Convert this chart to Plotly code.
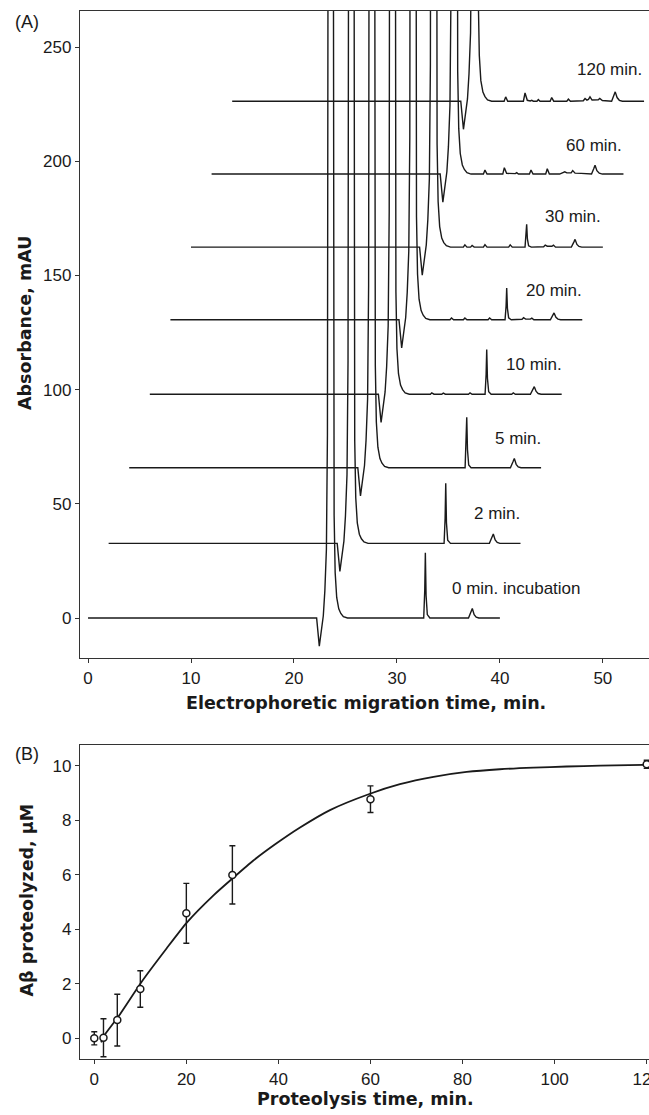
import plotly.graph_objects as go

# ---------------- Panel A data (electropherograms) ----------------
TRACE_LABELS = ["0 min. incubation", "2 min.", "5 min.", "10 min.", "20 min.",
                "30 min.", "60 min.", "120 min."]
# display offsets of each stacked trace: migration-time shift (min) and baseline (mAU)
TRACE_SHIFT = [0, 2, 4, 6, 8, 10, 12, 14]
TRACE_BASELINE = [0, 32.7, 65.8, 98.0, 130.6, 162.4, 194.4, 226.3]

# shared system dip + main (off-scale) peak, local time (min) / absorbance above baseline
MAIN_T = [0, 22.2, 22.46, 22.65, 22.85, 23.0, 23.15, 23.25, 23.3, 23.55, 23.84, 23.9,
          24.0, 24.15, 24.35, 24.55, 24.8, 25.2]
MAIN_Y = [0, 0, -12.3, -6, 1, 12, 30, 80, 300, 1200, 260, 45, 20, 9, 4, 2, 0.6, 0]

# product / substrate peaks after the main peak (local time, absorbance above baseline)
MINOR_T = [
    [32.6, 32.7, 32.76, 32.83, 32.95, 33.2, 36.95, 37.2, 37.32, 37.5, 37.7, 37.95, 40.0],
    [32.58, 32.68, 32.74, 32.81, 32.93, 33.2, 36.98, 37.24, 37.36, 37.54, 37.74, 38.0, 40.0],
    [32.62, 32.72, 32.78, 32.85, 32.97, 33.2, 37.02, 37.28, 37.4, 37.58, 37.78, 38.05, 40.0],
    [27.25, 27.38, 27.6, 28.35, 28.5, 28.7, 30.95, 31.1, 31.3, 32.56, 32.66, 32.72, 32.79,
     32.91, 33.15, 35.15, 35.3, 35.5, 36.96, 37.22, 37.34, 37.52, 37.72, 38.0, 40.0],
    [27.15, 27.3, 27.5, 28.45, 28.6, 28.8, 30.85, 31.0, 31.2, 32.5, 32.6, 32.66, 32.73, 32.85,
     33.1, 34.15, 34.3, 34.5, 34.95, 35.1, 35.3, 36.9, 37.14, 37.26, 37.44, 37.64, 37.9, 40.0],
    [26.45, 26.6, 26.8, 27.15, 27.3, 27.5, 28.4, 28.55, 28.75, 30.85, 31.0, 31.2, 32.44, 32.54,
     32.6, 32.67, 32.79, 33.05, 34.25, 34.4, 34.6, 35.05, 35.2, 35.4, 36.94, 37.18, 37.3,
     37.48, 37.68, 37.95, 40.0],
    [26.4, 26.55, 26.75, 28.28, 28.43, 28.65, 29.5, 29.63, 29.8, 30.87, 31.02, 31.22, 32.45,
     32.6, 32.8, 33.8, 34.15, 34.3, 34.5, 34.92, 35.07, 35.3, 35.9, 36.9, 37.12, 37.24, 37.42,
     37.65, 37.95, 40.0],
    [26.41, 26.56, 26.76, 28.28, 28.44, 28.66, 28.95, 29.09, 29.25, 29.6, 29.73, 29.9, 30.88,
     31.03, 31.23, 32.5, 32.65, 32.85, 34.1, 34.27, 34.45, 34.6, 34.75, 34.95, 35.55, 35.7,
     35.95, 36.85, 37.08, 37.2, 37.38, 37.6, 37.9, 40.0],
]
MINOR_Y = [
    [0, 12, 28.6, 10, 1.5, 0, 0, 2.8, 4.2, 1.5, 0.4, 0, 0],
    [0, 11, 26.3, 9, 1.4, 0, 0, 2.7, 4.1, 1.5, 0.4, 0, 0],
    [0, 9.5, 22.1, 8, 1.2, 0, 0, 2.7, 4.1, 1.5, 0.4, 0, 0],
    [0, 0.6, 0, 0, 0.5, 0, 0, 0.6, 0, 0, 8.5, 19.6, 7, 1.1, 0, 0, 0.6, 0, 0, 2.2, 3.3, 1.2,
     0.3, 0, 0],
    [0, 0.8, 0, 0, 0.8, 0, 0, 0.8, 0, 0, 6, 13.9, 5, 0.8, 0, 0.2, 0.9, 0.3, 0.3, 0.7, 0, 0,
     2.0, 3.0, 1.1, 0.3, 0, 0],
    [0, 1.0, 0, 0, 0.7, 0, 0, 1.1, 0, 0, 1.0, 0, 0, 4.5, 10, 3.6, 0.6, 0, 0.2, 0.9, 0.4, 0.4,
     0.9, 0, 0, 2.2, 3.4, 1.2, 0.3, 0, 0],
    [0, 1.75, 0, 0, 2.8, 0.3, 0.2, 0.6, 0, 0, 1.75, 0, 0, 2.3, 0, 0, 0.5, 1.0, 0.5, 0.5, 1.5,
     0.4, 0.3, 0, 2.4, 3.9, 1.5, 0.4, 0, 0],
    [0, 1.9, 0, 0, 3.6, 0.4, 0.1, 0.4, 0, 0, 0.7, 0, 0, 1.6, 0, 0, 0.9, 0, 0.2, 1.2, 0.5, 0.8,
     1.9, 0.5, 0.6, 1.2, 0.3, 0, 2.5, 4.1, 1.6, 0.4, 0, 0],
]
LABEL_X = [35.2, 37.3, 39.3, 40.4, 42.3, 44.2, 46.2, 47.3]
LABEL_Y = [13, 45.8, 78.7, 110.8, 143.3, 175.7, 207, 240]

# ---------------- Panel B data (proteolysis kinetics) ----------------
PROTEO_TIME = [0, 2, 5, 10, 20, 30, 60, 120]
AB_PROTEOLYZED = [0.0, 0.02, 0.67, 1.81, 4.59, 6.0, 8.78, 10.06]
AB_ERROR = [0.24, 0.7, 0.95, 0.67, 1.1, 1.07, 0.49, 0.15]
FIT_T = [1.5, 2, 5.2, 10.3, 15.7, 20.1, 25.9, 30.1, 34.5, 39.6, 44.7, 51.2, 59.9, 66.4,
         73.7, 80.9, 88.1, 95.4, 102.6, 109.9, 119.3]
FIT_Y = [-0.15, 0.06, 0.79, 2.08, 3.3, 4.25, 5.25, 5.88, 6.52, 7.16, 7.74, 8.38, 8.98, 9.33,
         9.6, 9.78, 9.88, 9.94, 9.98, 10.01, 10.04]

# ---------------- figure ----------------
W, H = 649, 1115
ML, MR, MT, MB = 80, 0, 11, 56
PW, PH = W - ML - MR, H - MT - MB


def px_x(px):
    return (px - ML) / PW


def px_y(py):
    return (H - MB - py) / PH


INK = "#1a1a1a"
AX = "#333333"
fig = go.Figure()

for k in range(len(TRACE_LABELS)):
    t = MAIN_T + MINOR_T[k]
    y = MAIN_Y + MINOR_Y[k]
    fig.add_trace(go.Scatter(
        x=[TRACE_SHIFT[k] + v for v in t],
        y=[TRACE_BASELINE[k] + v for v in y],
        mode="lines", line=dict(color=INK, width=1.4),
        xaxis="x", yaxis="y", showlegend=False, hoverinfo="skip"))

fig.add_trace(go.Scatter(
    x=FIT_T, y=FIT_Y, mode="lines",
    line=dict(color=INK, width=1.8, shape="spline", smoothing=0.6),
    xaxis="x2", yaxis="y2", showlegend=False))
fig.add_trace(go.Scatter(
    x=PROTEO_TIME, y=AB_PROTEOLYZED, mode="markers", cliponaxis=False,
    marker=dict(symbol="circle", size=7, color="white", line=dict(color=INK, width=1.5)),
    error_y=dict(type="data", array=AB_ERROR, visible=True, color=INK, thickness=1.4, width=3),
    xaxis="x2", yaxis="y2", showlegend=False))

tickfont = dict(family="Liberation Sans, Arial, sans-serif", size=17, color=INK)
axis_common = dict(showline=True, linecolor=AX, linewidth=1.4, ticks="outside", ticklen=4,
                   tickwidth=1.2, tickcolor=AX, showgrid=False, zeroline=False,
                   tickfont=tickfont, ticklabeloverflow="allow")

top_dom = [px_y(658), 1]
bot_dom = [0, px_y(745)]

fig.update_layout(
    width=W, height=H,
    margin=dict(l=ML, r=MR, t=MT, b=MB, autoexpand=False),
    paper_bgcolor="white", plot_bgcolor="white",
    xaxis=dict(domain=[0, 1], range=[-0.78, 54.48], tickvals=[0, 10, 20, 30, 40, 50],
               anchor="y", mirror=True, **axis_common),
    yaxis=dict(domain=top_dom, range=[-17.5, 265.8], tickvals=[0, 50, 100, 150, 200, 250],
               anchor="x", **axis_common),
    xaxis2=dict(domain=[0, 1], range=[-3.1, 120.5], tickvals=[0, 20, 40, 60, 80, 100, 120],
                anchor="y2", mirror=True, **axis_common),
    yaxis2=dict(domain=bot_dom, range=[-0.76, 10.77], tickvals=[0, 2, 4, 6, 8, 10],
                anchor="x2", **axis_common),
)

ann = []
labfont = dict(family="Liberation Sans, Arial, sans-serif", size=17, color=INK)
for k, lab in enumerate(TRACE_LABELS):
    ann.append(dict(x=LABEL_X[k], y=LABEL_Y[k], xref="x", yref="y", text=lab,
                    showarrow=False, xanchor="left", yanchor="middle", font=labfont))

titlefont = dict(family="DejaVu Sans, sans-serif", size=17.5, color=INK, weight="bold")
panfont = dict(family="Liberation Sans, Arial, sans-serif", size=18, color=INK)
ann += [
    dict(x=px_x(27), y=px_y(22), text="(A)", font=panfont),
    dict(x=px_x(27), y=px_y(754), text="(B)", font=panfont),
    dict(x=px_x(24.5), y=px_y(323.5), text="Absorbance, mAU", textangle=-90, font=titlefont),
    dict(x=px_x(366), y=px_y(703), text="Electrophoretic migration time, min.", font=titlefont),
    dict(x=px_x(26.5), y=px_y(900), text="Aβ proteolyzed, μM", textangle=-90, font=titlefont),
    dict(x=px_x(365), y=px_y(1099), text="Proteolysis time, min.", font=titlefont),
]
for a in ann[len(TRACE_LABELS):]:
    a.update(xref="paper", yref="paper", showarrow=False, xanchor="center", yanchor="middle")
fig.update_layout(annotations=ann)

fig.write_html(
    "out.html",
    config={"displayModeBar": False},
    post_script="document.body.style.margin='0';document.body.style.overflow='hidden';"
                "document.documentElement.style.overflow='hidden';",
)
